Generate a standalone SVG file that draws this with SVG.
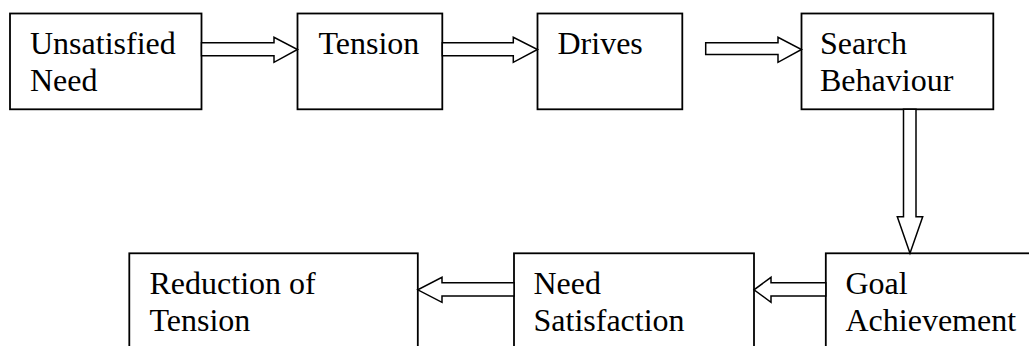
<svg xmlns="http://www.w3.org/2000/svg" width="1029" height="346" viewBox="0 0 1029 346">
  <style>
    .box { fill: #ffffff; stroke: #000000; stroke-width: 1.8; }
    .arrow { fill: #ffffff; stroke: #000000; stroke-width: 1.5; stroke-linejoin: miter; }
    .label { font-family: "Liberation Serif", "Times New Roman", serif; font-size: 32px; fill: #000000; }
  </style>
  <rect width="1029" height="346" fill="#ffffff"/>

  <!-- top row -->
  <g id="unsatisfied-need">
    <rect class="box" x="10" y="13.5" width="191.5" height="95.8"/>
    <text class="label" x="30" y="54">Unsatisfied</text>
    <text class="label" x="30" y="91">Need</text>
  </g>
  <g id="tension">
    <rect class="box" x="297.5" y="13.5" width="144.8" height="95.8"/>
    <text class="label" x="318.5" y="54">Tension</text>
  </g>
  <g id="drives">
    <rect class="box" x="537.5" y="13.5" width="144.8" height="95.8"/>
    <text class="label" x="557.5" y="54">Drives</text>
  </g>
  <g id="search-behaviour">
    <rect class="box" x="801.5" y="13.5" width="191.8" height="95.8"/>
    <text class="label" x="820" y="54">Search</text>
    <text class="label" x="820" y="91">Behaviour</text>
  </g>

  <!-- bottom row (boxes run past the lower and right edges) -->
  <g id="reduction-of-tension">
    <rect class="box" x="129.3" y="253.3" width="288.5" height="110"/>
    <text class="label" x="149.5" y="294">Reduction of</text>
    <text class="label" x="149.5" y="331">Tension</text>
  </g>
  <g id="need-satisfaction">
    <rect class="box" x="514" y="253.3" width="240" height="110"/>
    <text class="label" x="533.5" y="294">Need</text>
    <text class="label" x="533.5" y="331">Satisfaction</text>
  </g>
  <g id="goal-achievement">
    <rect class="box" x="825.8" y="253.3" width="220" height="110"/>
    <text class="label" x="845.5" y="294">Goal</text>
    <text class="label" x="845.5" y="331">Achievement</text>
  </g>

  <!-- hollow block arrows -->
  <g id="connectors">
    <polygon class="arrow" points="201.5,42.7 274,42.7 274,37.3 297.5,49.5 274,62.3 274,55.7 201.5,55.7"/>
    <polygon class="arrow" points="442.3,42.7 513.3,42.7 513.3,37.3 537.5,49.5 513.3,62.3 513.3,55.7 442.3,55.7"/>
    <polygon class="arrow" points="705.7,42.7 778,42.7 778,37.3 801.5,49.5 778,62.3 778,54.5 705.7,54.5"/>
    <polygon class="arrow" points="903.5,109.3 916,109.3 916,216.7 922.7,216.7 910,253.3 897.3,216.7 903.5,216.7"/>
    <polygon class="arrow" points="825.8,282.7 771,282.7 771,277.3 754,289.8 771,302.3 771,296 825.8,296"/>
    <polygon class="arrow" points="514,282.7 442,282.7 442,277.3 417.8,289.8 442,302.3 442,296 514,296"/>
  </g>
</svg>
